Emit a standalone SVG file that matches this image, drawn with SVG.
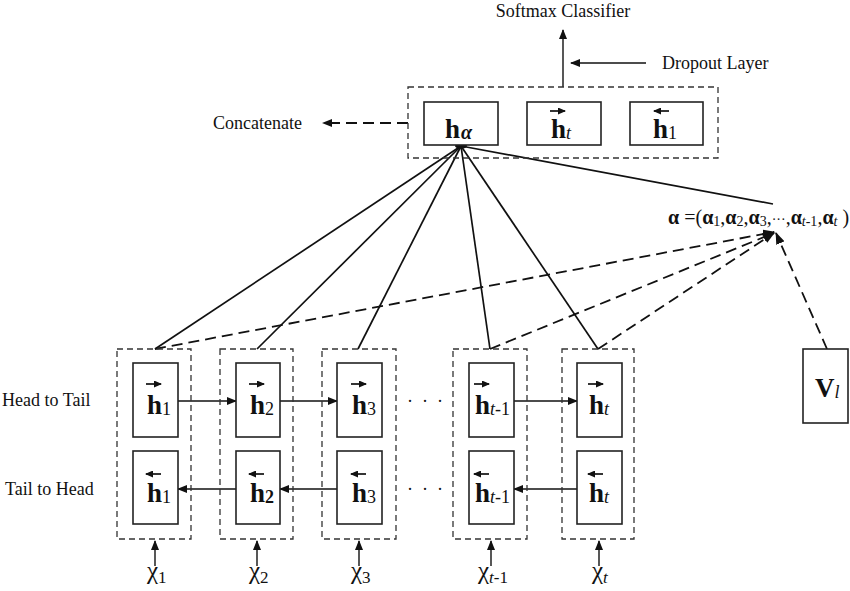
<svg xmlns="http://www.w3.org/2000/svg" width="850" height="591" viewBox="0 0 850 591">
<style>
text{font-family:"Liberation Serif","Times New Roman",serif;fill:#111}
.lbl{font-size:18px}
.h{font-size:27px;font-weight:bold}
.sub{font-size:18px;font-weight:normal}
.it{font-style:italic}
.chi{font-size:25px}
.cs{font-size:17px}
.box{fill:#fff;stroke:#222;stroke-width:1.6}
.dbox{fill:none;stroke:#333;stroke-width:1.3;stroke-dasharray:6 4}
.sol{stroke:#111;stroke-width:1.7;fill:none}
.dash{stroke:#111;stroke-width:1.8;fill:none;stroke-dasharray:11 6}
.arr{stroke:#111;stroke-width:1.4;fill:none;marker-end:url(#ah)}
.varr{stroke:#111;stroke-width:1.7;fill:none;marker-end:url(#sh)}
</style>
<defs>
<marker id="ah" markerUnits="userSpaceOnUse" markerWidth="10" markerHeight="8" refX="9" refY="4" orient="auto"><path d="M0,0 L10,4 L0,8 Z" fill="#111"/></marker>
<marker id="sh" markerUnits="userSpaceOnUse" markerWidth="8" markerHeight="7" refX="7" refY="3.5" orient="auto"><path d="M0,0 L8,3.5 L0,7 Z" fill="#111"/></marker>
<marker id="dh" markerUnits="userSpaceOnUse" markerWidth="12" markerHeight="9" refX="11" refY="4.5" orient="auto"><path d="M0,0 L12,4.5 L0,9 Z" fill="#111"/></marker>
</defs>

<g id="connectors">
<line class="arr" x1="563" y1="87" x2="563" y2="30"/>
<line class="arr" x1="646" y1="63" x2="571" y2="63"/>
<line class="dash" x1="408" y1="123" x2="332" y2="123" stroke-dasharray="9 6" stroke-width="1.5"/>
<path d="M322,123 L332,119 L332,127 Z" fill="#111"/>
<line class="sol" x1="461" y1="146" x2="155" y2="349"/>
<line class="sol" x1="461" y1="146" x2="257" y2="349"/>
<line class="sol" x1="461" y1="146" x2="358" y2="349"/>
<line class="sol" x1="461" y1="146" x2="490" y2="349"/>
<line class="sol" x1="461" y1="146" x2="598" y2="349"/>
<line class="sol" x1="461" y1="146" x2="773" y2="204"/>
<ellipse cx="461" cy="146" rx="6" ry="2.8" fill="#111"/>
<line class="dash" x1="155" y1="349" x2="774" y2="232" marker-end="url(#dh)"/>
<line class="dash" x1="490" y1="349" x2="774" y2="233" marker-end="url(#dh)"/>
<line class="dash" x1="598" y1="349" x2="774" y2="233" marker-end="url(#dh)"/>
<line class="dash" x1="827" y1="349" x2="776" y2="233" marker-end="url(#dh)"/>
<line class="arr" x1="178" y1="401" x2="236" y2="401"/>
<line class="arr" x1="280" y1="401" x2="337" y2="401"/>
<line class="arr" x1="514" y1="401" x2="577" y2="401"/>
<line class="arr" x1="236" y1="489" x2="178" y2="489"/>
<line class="arr" x1="337" y1="489" x2="280" y2="489"/>
<line class="arr" x1="577" y1="489" x2="514" y2="489"/>
<line class="arr" x1="155" y1="566" x2="155" y2="541"/>
<line class="arr" x1="257" y1="566" x2="257" y2="541"/>
<line class="arr" x1="359" y1="566" x2="359" y2="541"/>
<line class="arr" x1="491" y1="566" x2="491" y2="541"/>
<line class="arr" x1="599" y1="566" x2="599" y2="541"/>
</g>

<g id="labels">
<text class="lbl" x="563" y="17" text-anchor="middle">Softmax Classifier</text>
<text class="lbl" x="662" y="69">Dropout Layer</text>
<text class="lbl" x="213" y="129">Concatenate</text>
<text class="lbl" x="2" y="406">Head to Tail</text>
<text class="lbl" x="5" y="495">Tail to Head</text>
<text class="lbl" x="407" y="407" letter-spacing="9">···</text>
<text class="lbl" x="407" y="495" letter-spacing="9">···</text>
</g>

<g id="output">
<rect class="dbox" x="408" y="87" width="310" height="71" stroke-dasharray="7 5"/>
<g id="h-alpha"><rect class="box" x="424" y="102" width="74" height="43"/>
<text class="h" x="445" y="138" font-size="26">h<tspan class="it" font-size="20" dx="1" dy="1">α</tspan></text></g>
<g id="h-t-fwd"><rect class="box" x="527" y="102" width="74" height="43"/>
<line class="varr" x1="550" y1="111" x2="565" y2="111"/>
<text class="h" x="551" y="138" font-size="26">h<tspan class="sub it" dy="1">t</tspan></text></g>
<g id="h-1-bwd"><rect class="box" x="630" y="102" width="73" height="43"/>
<line class="varr" x1="669" y1="111" x2="654" y2="111"/>
<text class="h" x="653" y="138" font-size="26">h<tspan class="sub" dy="1">1</tspan></text></g>
</g>

<g id="alpha">
<text x="668" y="224" font-size="20"><tspan font-weight="bold">α</tspan> =(<tspan font-weight="bold">α</tspan><tspan font-size="14" dy="2">1</tspan><tspan dy="-2">,</tspan><tspan font-weight="bold">α</tspan><tspan font-size="14" dy="2">2</tspan><tspan dy="-2">,</tspan><tspan font-weight="bold">α</tspan><tspan font-size="14" dy="2">3</tspan><tspan dy="-2">,</tspan><tspan font-size="14">···</tspan>,<tspan font-weight="bold">α</tspan><tspan font-size="14" font-style="italic" dy="2">t</tspan><tspan font-size="14">-1</tspan><tspan dy="-2">,</tspan><tspan font-weight="bold">α</tspan><tspan font-size="14" font-style="italic" dy="2">t</tspan><tspan dy="-2"> )</tspan></text>
</g>

<g id="v-l">
<rect class="box" x="803" y="349" width="45" height="74"/>
<text class="h" x="815" y="397" font-size="28">V<tspan class="sub it" dy="1">l</tspan></text>
</g>

<g id="col-1">
<rect class="dbox" x="117" y="349" width="74" height="190"/>
<rect class="box" x="133" y="363" width="45" height="74"/>
<line class="varr" x1="146" y1="384" x2="161" y2="384"/>
<text class="h" x="147" y="414">h<tspan class="sub" dy="1">1</tspan></text>
<rect class="box" x="133" y="451" width="45" height="73"/>
<line class="varr" x1="161" y1="474" x2="146" y2="474"/>
<text class="h" x="147" y="502">h<tspan class="sub" dy="1">1</tspan></text>
<text class="chi" x="147" y="579">χ<tspan class="cs" dy="4">1</tspan></text>
</g>

<g id="col-2">
<rect class="dbox" x="220" y="349" width="73" height="190"/>
<rect class="box" x="236" y="363" width="44" height="74"/>
<line class="varr" x1="249" y1="384" x2="264" y2="384"/>
<text class="h" x="250" y="414">h<tspan class="sub" dy="1">2</tspan></text>
<rect class="box" x="236" y="451" width="44" height="73"/>
<line class="varr" x1="264" y1="474" x2="249" y2="474"/>
<text class="h" x="250" y="502">h<tspan font-size="18" dy="1">2</tspan></text>
<text class="chi" x="249" y="579">χ<tspan class="cs" dy="4">2</tspan></text>
</g>

<g id="col-3">
<rect class="dbox" x="322" y="349" width="74" height="190"/>
<rect class="box" x="337" y="363" width="45" height="74"/>
<line class="varr" x1="351" y1="384" x2="366" y2="384"/>
<text class="h" x="352" y="414">h<tspan class="sub" dy="1">3</tspan></text>
<rect class="box" x="337" y="451" width="45" height="73"/>
<line class="varr" x1="366" y1="474" x2="351" y2="474"/>
<text class="h" x="352" y="502">h<tspan class="sub" dy="1">3</tspan></text>
<text class="chi" x="351" y="579">χ<tspan class="cs" dy="4">3</tspan></text>
</g>

<g id="col-t-1">
<rect class="dbox" x="453" y="349" width="74" height="190"/>
<rect class="box" x="469" y="363" width="45" height="74"/>
<line class="varr" x1="474" y1="384" x2="489" y2="384"/>
<text class="h" x="475" y="414">h<tspan class="sub it" dy="1">t</tspan><tspan class="sub">-1</tspan></text>
<rect class="box" x="469" y="451" width="45" height="73"/>
<line class="varr" x1="489" y1="474" x2="474" y2="474"/>
<text class="h" x="475" y="502">h<tspan class="sub it" dy="1">t</tspan><tspan class="sub">-1</tspan></text>
<text class="chi" x="478" y="579">χ<tspan class="cs it" dy="4">t</tspan><tspan class="cs">-1</tspan></text>
</g>

<g id="col-t">
<rect class="dbox" x="562" y="349" width="72" height="190"/>
<rect class="box" x="577" y="363" width="45" height="74"/>
<line class="varr" x1="588" y1="384" x2="603" y2="384"/>
<text class="h" x="589" y="414">h<tspan class="sub it" dy="1">t</tspan></text>
<rect class="box" x="577" y="451" width="45" height="73"/>
<line class="varr" x1="603" y1="474" x2="588" y2="474"/>
<text class="h" x="589" y="502">h<tspan class="sub it" dy="1">t</tspan></text>
<text class="chi" x="592" y="579">χ<tspan class="cs it" dy="4">t</tspan></text>
</g>
</svg>
